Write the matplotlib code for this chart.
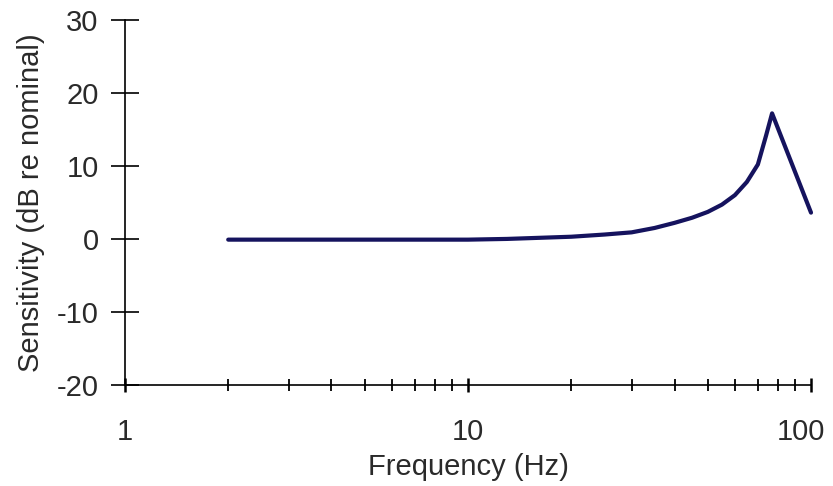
import matplotlib
matplotlib.use("Agg")
import matplotlib.pyplot as plt
import matplotlib.transforms as mtransforms
from matplotlib.ticker import FixedLocator, NullFormatter

# data
freq_hz = [2, 5, 10, 13, 15, 20, 25, 30, 35, 40, 45, 50, 55, 60, 65, 70, 74, 77, 100]
sens_db = [-0.1, -0.1, -0.1, 0.0, 0.1, 0.3, 0.6, 0.9, 1.5, 2.2, 2.9, 3.7, 4.7, 6.0, 7.8, 10.2, 14.2, 17.2, 3.6]

x_major = [1, 10, 100]
x_minor = [2, 3, 4, 5, 6, 7, 8, 9, 20, 30, 40, 50, 60, 70, 80, 90]
y_ticks = [-20, -10, 0, 10, 20, 30]

plt.rcParams['font.family'] = ['Liberation Sans', 'DejaVu Sans']
txt_color = '#2a2a2a'

fig = plt.figure(figsize=(8.33, 4.86), dpi=100)
ax = fig.add_axes([0.150, 0.208, 0.8236, 0.751])

ax.plot(freq_hz, sens_db, color='#15135e', linewidth=3.0, clip_on=False,
        solid_joinstyle='round', solid_capstyle='round')

ax.set_xscale('log')
ax.set_xlim(1, 100)
ax.set_ylim(-20, 30)

ax.xaxis.set_major_locator(FixedLocator(x_major))
ax.xaxis.set_minor_locator(FixedLocator(x_minor))
ax.set_xticklabels([str(v) for v in x_major])
ax.xaxis.set_minor_formatter(NullFormatter())
ax.set_yticks(y_ticks)
ax.set_yticklabels([str(v) for v in y_ticks])

for s in ['top', 'right']:
    ax.spines[s].set_visible(False)
for s in ['left', 'bottom']:
    ax.spines[s].set_linewidth(1.2)
    ax.spines[s].set_color('black')

ax.tick_params(axis='x', which='major', direction='inout', length=10, width=1.8,
               pad=19, labelsize=21, labelcolor=txt_color)
ax.tick_params(axis='x', which='minor', direction='inout', length=8, width=1.3)
ax.tick_params(axis='y', which='major', direction='inout', length=20, width=1.2,
               pad=9, labelsize=21, labelcolor=txt_color)

# the "100" label sits at the right edge, nudge it left so it stays inside
last = ax.get_xticklabels()[-1]
last.set_transform(last.get_transform() +
                   mtransforms.ScaledTranslation(-7 / 72, 0, fig.dpi_scale_trans))

ax.set_xlabel('Frequency (Hz)', fontsize=21, color=txt_color, labelpad=5)
ax.set_ylabel('Sensitivity (dB re nominal)', fontsize=21, color=txt_color)
ax.yaxis.set_label_coords(-0.116, 0.5)

fig.savefig('out.png', dpi=100, facecolor='white')
